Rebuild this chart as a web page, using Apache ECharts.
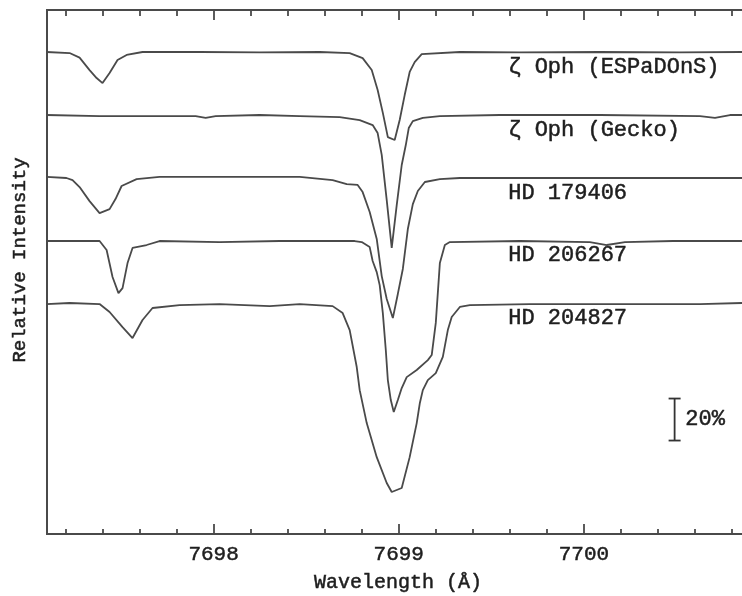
<!DOCTYPE html>
<html>
<head>
<meta charset="utf-8">
<script src="https://cdn.jsdelivr.net/npm/echarts@6/dist/echarts.min.js"></script>
<style>html,body{margin:0;padding:0;background:#fff}#c{width:742px;height:596px}</style>
</head>
<body>
<div id="c"></div>
<script>
// ---- Data (wavelength in Å, normalized flux) ----
const names = ['ζ Oph (ESPaDOnS)', 'ζ Oph (Gecko)', 'HD 179406', 'HD 206267', 'HD 204827'];
const offsets = [1.2, 0.9, 0.6, 0.3, 0.0];

const espWave = [7697.097,7697.222,7697.276,7697.330,7697.368,7697.400,7697.438,7697.481,7697.530,7697.616,7697.924,7698.249,7698.573,7698.735,7698.805,7698.854,7698.886,7698.914,7698.941,7698.978,7699.005,7699.032,7699.059,7699.086,7699.124,7699.330,7699.654,7700.086,7700.519,7700.854];
const espFlux = [1.000,0.995,0.973,0.914,0.876,0.852,0.900,0.962,0.986,1.000,1.000,0.998,1.000,0.995,0.971,0.914,0.819,0.710,0.595,0.581,0.676,0.795,0.905,0.952,0.990,1.000,0.998,1.000,0.998,1.000];

const geckoWave = [7697.097,7697.384,7697.659,7697.903,7697.957,7698.011,7698.249,7698.465,7698.681,7698.789,7698.859,7698.886,7698.908,7698.935,7698.962,7698.989,7699.016,7699.038,7699.054,7699.076,7699.130,7699.222,7699.546,7700.086,7700.627,7700.708,7700.789,7700.854];
const geckoFlux = [1.000,0.995,0.995,0.995,0.986,0.995,1.000,0.995,0.990,0.976,0.952,0.914,0.810,0.595,0.367,0.571,0.762,0.857,0.938,0.971,0.986,0.995,1.000,1.000,0.995,0.986,1.000,1.000];

const hd179406Wave = [7697.097,7697.205,7697.238,7697.276,7697.330,7697.384,7697.438,7697.470,7697.503,7697.584,7697.708,7698.086,7698.465,7698.643,7698.719,7698.778,7698.805,7698.843,7698.881,7698.908,7698.935,7698.968,7698.995,7699.022,7699.049,7699.076,7699.103,7699.141,7699.222,7699.330,7699.816,7700.357,7700.854];
const hd179406Flux = [1.005,1.000,0.990,0.957,0.890,0.833,0.852,0.900,0.962,0.995,1.005,1.005,1.005,0.990,0.971,0.967,0.933,0.838,0.710,0.533,0.424,0.333,0.448,0.567,0.757,0.876,0.938,0.981,0.995,1.000,1.000,1.000,1.000];

const hd206267Wave = [7697.097,7697.384,7697.422,7697.454,7697.486,7697.508,7697.535,7697.562,7697.638,7697.708,7698.032,7698.357,7698.762,7698.800,7698.843,7698.859,7698.881,7698.897,7698.914,7698.930,7698.941,7698.957,7698.973,7698.995,7699.016,7699.043,7699.097,7699.157,7699.178,7699.200,7699.222,7699.249,7699.276,7699.654,7700.032,7700.124,7700.222,7700.481,7700.854];
const hd206267Flux = [1.000,1.000,0.957,0.829,0.752,0.776,0.895,0.967,0.981,1.000,0.995,1.000,1.000,0.995,0.971,0.905,0.852,0.790,0.657,0.481,0.338,0.243,0.186,0.243,0.300,0.352,0.386,0.433,0.457,0.610,0.895,0.981,0.995,1.000,0.995,0.981,0.995,1.000,1.000];

const hd204827Wave = [7697.097,7697.222,7697.384,7697.438,7697.508,7697.562,7697.616,7697.670,7697.816,7698.032,7698.303,7698.465,7698.643,7698.697,7698.735,7698.773,7698.789,7698.827,7698.881,7698.935,7698.962,7699.016,7699.059,7699.097,7699.114,7699.130,7699.157,7699.200,7699.238,7699.265,7699.286,7699.330,7699.384,7699.708,7700.194,7700.627,7700.854];
const hd204827Flux = [1.000,1.005,1.000,0.962,0.890,0.838,0.924,0.981,0.995,1.000,0.990,1.000,0.990,0.957,0.876,0.700,0.590,0.433,0.271,0.148,0.105,0.124,0.271,0.433,0.529,0.590,0.638,0.671,0.748,0.876,0.938,0.986,0.995,1.000,1.000,1.000,1.005];

const majorTicks = [7698, 7699, 7700];
const minorTicks = [7697.2,7697.4,7697.6,7697.8,7698.2,7698.4,7698.6,7698.8,7699.2,7699.4,7699.6,7699.8,7700.2,7700.4,7700.6,7700.8];
const scaleBar = [[7700.49, 0.35, 0.55]]; // 20% bar: x, y0, y1

const waves = [espWave, geckoWave, hd179406Wave, hd206267Wave, hd204827Wave];
const fluxes = [espFlux, geckoFlux, hd179406Flux, hd206267Flux, hd204827Flux];

const FONT = '"Liberation Mono", monospace';
const LINE = '#4a4a4a';
const TEXT = '#1e1e1e';
const xMin = 7697.1, xMax = 7700.854;

const chart = echarts.init(document.getElementById('c'), null, {renderer: 'canvas'});

const series = waves.map((w, i) => ({
  type: 'line',
  name: names[i],
  xAxisIndex: 0,
  yAxisIndex: 0,
  showSymbol: false,
  symbol: 'none',
  smooth: false,
  lineStyle: {color: LINE, width: 1.8},
  data: w.map((x, j) => [x, fluxes[i][j] + offsets[i]]),
  animation: false
}));

series.push({
  type: 'custom',
  xAxisIndex: 0,
  yAxisIndex: 0,
  animation: false,
  data: scaleBar,
  renderItem: function (params, api) {
    const p0 = api.coord([api.value(0), api.value(1)]);
    const p1 = api.coord([api.value(0), api.value(2)]);
    const hw = 6;
    const st = {stroke: '#333', lineWidth: 1.8};
    return {
      type: 'group',
      children: [
        {type: 'line', shape: {x1: p0[0], y1: p0[1], x2: p1[0], y2: p1[1]}, style: st},
        {type: 'line', shape: {x1: p0[0] - hw, y1: p0[1], x2: p0[0] + hw, y2: p0[1]}, style: st},
        {type: 'line', shape: {x1: p1[0] - hw, y1: p1[1], x2: p1[0] + hw, y2: p1[1]}, style: st}
      ]
    };
  }
});

const axisBase = {
  type: 'value', min: xMin, max: xMax, gridIndex: 0,
  splitLine: {show: false},
  axisLine: {show: true, onZero: false, lineStyle: {color: LINE, width: 2}}
};

const labelYs = [67, 130, 193, 255, 318];
const txtStyle = (size) => ({font: size + 'px ' + FONT, fill: TEXT, stroke: TEXT, lineWidth: 0.5});

const option = {
  backgroundColor: '#fff',
  animation: false,
  grid: {left: 47, top: 10, right: 0, bottom: 62, containLabel: false},
  xAxis: [
    Object.assign({}, axisBase, {
      position: 'bottom',
      axisTick: {show: true, inside: true, length: 10, customValues: majorTicks, lineStyle: {color: LINE, width: 1.8}},
      axisLabel: {show: true, customValues: majorTicks, margin: 10, fontFamily: FONT, fontSize: 21, color: TEXT,
        textBorderColor: TEXT, textBorderWidth: 0.5, formatter: v => String(Math.round(v))}
    }),
    Object.assign({}, axisBase, {
      position: 'bottom',
      axisTick: {show: true, inside: true, length: 5, customValues: minorTicks, lineStyle: {color: LINE, width: 1.8}},
      axisLabel: {show: false}
    }),
    Object.assign({}, axisBase, {
      position: 'top',
      axisTick: {show: true, inside: true, length: 10, customValues: majorTicks, lineStyle: {color: LINE, width: 1.8}},
      axisLabel: {show: false}
    }),
    Object.assign({}, axisBase, {
      position: 'top',
      axisTick: {show: true, inside: true, length: 6, customValues: minorTicks, lineStyle: {color: LINE, width: 1.8}},
      axisLabel: {show: false}
    })
  ],
  yAxis: [{
    type: 'value', min: -0.095, max: 2.4, gridIndex: 0,
    splitLine: {show: false},
    axisTick: {show: false},
    axisLabel: {show: false},
    axisLine: {show: true, onZero: false, lineStyle: {color: LINE, width: 2}}
  }],
  series: series,
  graphic: [
    ...names.map((n, i) => ({
      type: 'text', left: 508, top: labelYs[i] - 11,
      style: Object.assign({text: n}, txtStyle(22))
    })),
    {type: 'text', left: 685, top: 408, style: Object.assign({text: '20%'}, txtStyle(22))},
    {type: 'text', x: 20, y: 260, rotation: Math.PI / 2,
      style: Object.assign({text: 'Relative Intensity', align: 'center', verticalAlign: 'middle'}, txtStyle(19))},
    {type: 'text', x: 398, y: 583,
      style: Object.assign({text: 'Wavelength (Å)', align: 'center', verticalAlign: 'middle'}, txtStyle(20))}
  ]
};

chart.setOption(option);
</script>
</body>
</html>
